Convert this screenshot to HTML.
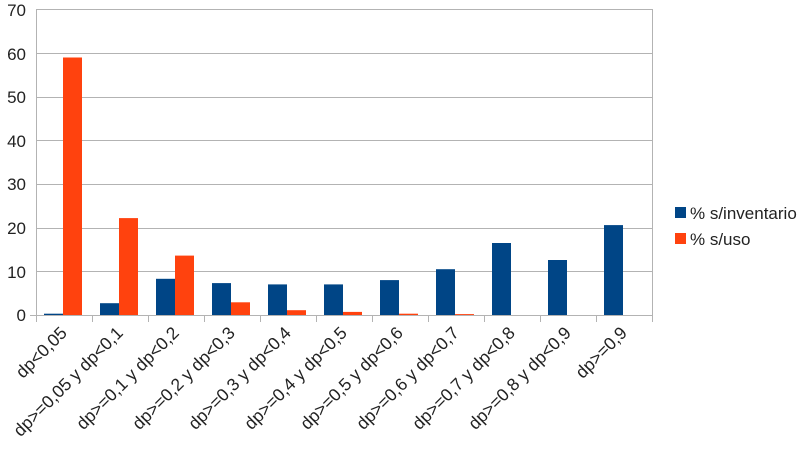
<!DOCTYPE html>
<html><head><meta charset="utf-8"><style>body{margin:0;background:#fff}svg{display:block}</style></head>
<body>
<svg width="810" height="450" xmlns="http://www.w3.org/2000/svg" font-family="Liberation Sans, sans-serif">
<g stroke="#b3b3b3" stroke-width="1">
<line x1="36" y1="9.5" x2="652" y2="9.5"/>
<line x1="36" y1="53.5" x2="652" y2="53.5"/>
<line x1="36" y1="97.5" x2="652" y2="97.5"/>
<line x1="36" y1="140.5" x2="652" y2="140.5"/>
<line x1="36" y1="184.5" x2="652" y2="184.5"/>
<line x1="36" y1="228.5" x2="652" y2="228.5"/>
<line x1="36" y1="271.5" x2="652" y2="271.5"/>
<line x1="30" y1="315.5" x2="652" y2="315.5"/>
<line x1="36.5" y1="9" x2="36.5" y2="322"/>
<line x1="652.5" y1="9" x2="652.5" y2="322"/>
<line x1="92.5" y1="315" x2="92.5" y2="322"/>
<line x1="148.5" y1="315" x2="148.5" y2="322"/>
<line x1="204.5" y1="315" x2="204.5" y2="322"/>
<line x1="260.5" y1="315" x2="260.5" y2="322"/>
<line x1="316.5" y1="315" x2="316.5" y2="322"/>
<line x1="372.5" y1="315" x2="372.5" y2="322"/>
<line x1="428.5" y1="315" x2="428.5" y2="322"/>
<line x1="484.5" y1="315" x2="484.5" y2="322"/>
<line x1="540.5" y1="315" x2="540.5" y2="322"/>
<line x1="596.5" y1="315" x2="596.5" y2="322"/>
</g>
<g font-size="17" fill="#222" text-anchor="end">
<text x="26" y="16">70</text><text x="26" y="60">60</text><text x="26" y="103">50</text><text x="26" y="147">40</text><text x="26" y="190">30</text><text x="26" y="234">20</text><text x="26" y="278">10</text><text x="26" y="321">0</text>
</g>
<g fill="#004586">
<rect x="44" y="313.7" width="19" height="1.3"/>
<rect x="100" y="303.2" width="19" height="11.8"/>
<rect x="156" y="278.8" width="19" height="36.2"/>
<rect x="212" y="283.1" width="19" height="31.9"/>
<rect x="268" y="284.4" width="19" height="30.6"/>
<rect x="324" y="284.4" width="19" height="30.6"/>
<rect x="380" y="280.1" width="19" height="34.9"/>
<rect x="436" y="269.2" width="19" height="45.8"/>
<rect x="492" y="243" width="19" height="72"/>
<rect x="548" y="260" width="19" height="55"/>
<rect x="604" y="225.1" width="19" height="89.9"/>
</g>
<g fill="#ff420e">
<rect x="63" y="57.5" width="19" height="257.5"/>
<rect x="119" y="218.1" width="19" height="96.9"/>
<rect x="175" y="255.6" width="19" height="59.4"/>
<rect x="231" y="302.3" width="19" height="12.7"/>
<rect x="287" y="310.2" width="19" height="4.8"/>
<rect x="343" y="311.9" width="19" height="3.1"/>
<rect x="399" y="313.7" width="19" height="1.3"/>
<rect x="455" y="314.1" width="19" height="0.9"/>
</g>
<g font-size="17.5" fill="#222" text-anchor="end">
<text transform="translate(68,334) rotate(-45)">dp&lt;0,05</text>
<text transform="translate(124,334) rotate(-45)">dp&gt;=0,05 y dp&lt;0,1</text>
<text transform="translate(180,334) rotate(-45)">dp&gt;=0,1 y dp&lt;0,2</text>
<text transform="translate(236,334) rotate(-45)">dp&gt;=0,2 y dp&lt;0,3</text>
<text transform="translate(292,334) rotate(-45)">dp&gt;=0,3 y dp&lt;0,4</text>
<text transform="translate(348,334) rotate(-45)">dp&gt;=0,4 y dp&lt;0,5</text>
<text transform="translate(404,334) rotate(-45)">dp&gt;=0,5 y dp&lt;0,6</text>
<text transform="translate(460,334) rotate(-45)">dp&gt;=0,6 y dp&lt;0,7</text>
<text transform="translate(516,334) rotate(-45)">dp&gt;=0,7 y dp&lt;0,8</text>
<text transform="translate(572,334) rotate(-45)">dp&gt;=0,8 y dp&lt;0,9</text>
<text transform="translate(628,334) rotate(-45)">dp&gt;=0,9</text>
</g>
<rect x="675" y="207" width="11" height="11" fill="#004586"/>
<rect x="675" y="233" width="11" height="11" fill="#ff420e"/>
<text x="690" y="219" font-size="17" fill="#222">% s/inventario</text>
<text x="690" y="245" font-size="17" fill="#222">% s/uso</text>
</svg>
</body></html>
